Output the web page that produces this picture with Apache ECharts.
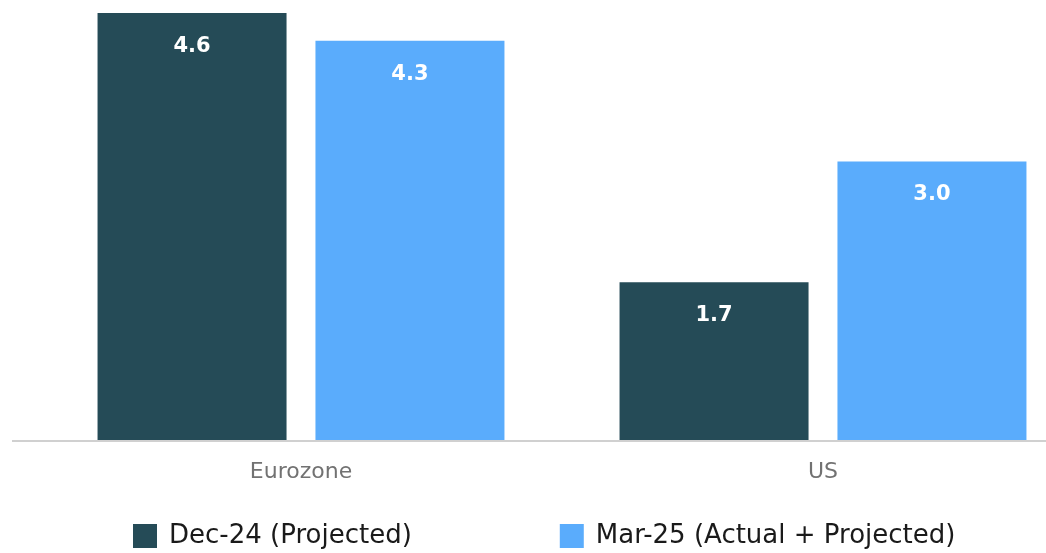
<!DOCTYPE html>
<html>
<head>
<meta charset="utf-8">
<script src="https://cdn.jsdelivr.net/npm/echarts@6/dist/echarts.min.js"></script>
<style>
  html, body { margin: 0; padding: 0; background: #ffffff; }
  #chart { width: 1046px; height: 553px; }
</style>
</head>
<body>
<div id="chart"></div>
<script>
// Regions on the category axis
const categories = ['Eurozone', 'US'];
// Series names and values
const seriesNames = ['Dec-24 (Projected)', 'Mar-25 (Actual + Projected)'];
const dec24 = [4.6, 1.7];
const mar25 = [4.3, 3.0];

const FONT = '"DejaVu Sans", "Noto Sans", sans-serif';
const COLORS = ['#254b57', '#5aacfc'];

const chart = echarts.init(document.getElementById('chart'), null, { renderer: 'canvas' });

const barLabel = {
  show: true,
  position: 'insideTop',
  distance: 23,
  color: '#ffffff',
  fontFamily: FONT,
  fontSize: 21,
  fontWeight: 600,
  formatter: p => p.value.toFixed(1)
};

const option = {
  animation: false,
  backgroundColor: '#ffffff',
  color: COLORS,
  grid: {
    left: 40, width: 1044, top: 13, bottom: 113,
    containLabel: false,
    outerBoundsMode: 'none'
  },
  legend: {
    left: 133,
    top: 523,
    padding: 0,
    icon: 'rect',
    itemWidth: 24,
    itemHeight: 24,
    itemGap: 148,
    textStyle: {
      fontFamily: FONT,
      fontSize: 26,
      color: '#1a1a1a',
      padding: [0, 0, 0, 7]
    },
    data: seriesNames
  },
  xAxis: {
    type: 'category',
    data: categories,
    axisLine: { show: false },
    axisTick: { show: false },
    axisLabel: {
      margin: 21,
      fontFamily: FONT,
      fontSize: 22,
      fontWeight: 'normal',
      color: '#727272'
    }
  },
  yAxis: {
    type: 'value',
    min: 0,
    max: 'dataMax',
    show: false,
    splitLine: { show: false }
  },
  series: [
    { name: seriesNames[0], type: 'bar', data: dec24, barWidth: 189, barGap: '15.3%', label: barLabel },
    { name: seriesNames[1], type: 'bar', data: mar25, barWidth: 189, barGap: '15.3%', label: barLabel }
  ]
};

chart.setOption(option);

// Baseline rule across the full plot width, at the value-axis zero
const baseY = Math.round(chart.convertToPixel({ yAxisIndex: 0 }, 0));
chart.setOption({
  graphic: [{
    type: 'line',
    z: 0,
    shape: { x1: 12, y1: baseY + 1, x2: 1046, y2: baseY + 1 },
    style: { stroke: '#d0d0d0', lineWidth: 2 }
  }]
});
</script>
</body>
</html>
